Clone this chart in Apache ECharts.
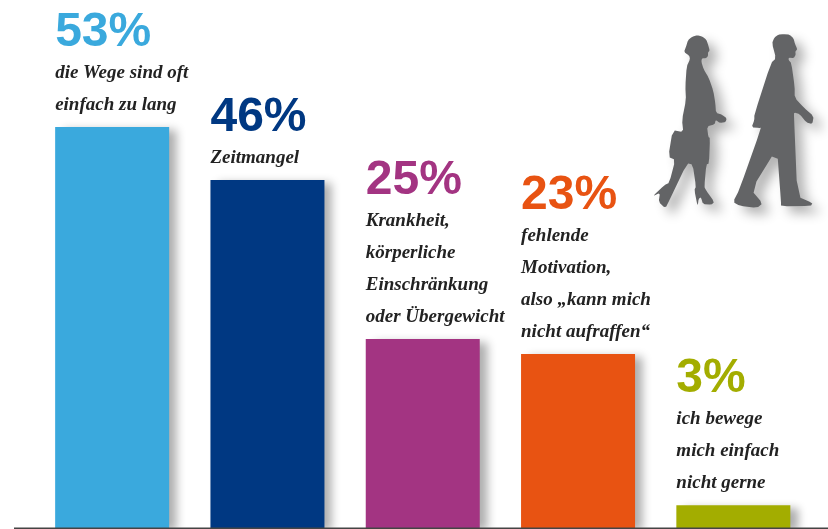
<!DOCTYPE html>
<html><head><meta charset="utf-8">
<style>html,body{margin:0;padding:0;background:#fff}#c{width:828px;height:529px}</style>
<script src="https://cdn.jsdelivr.net/npm/echarts@6/dist/echarts.min.js"></script>
</head><body><div id="c"></div>
<script>
const categories = ['Wege','Zeitmangel','Krankheit','Motivation','Nicht gerne'];
const values = [53,46,25,23,3];
const colors = ['#3AA9DD','#003882','#A33482','#E85312','#A3AD00'];
const percentLabels = ['53%','46%','25%','23%','3%'];
const captions = [
 ['die Wege sind oft','einfach zu lang'],
 ['Zeitmangel'],
 ['Krankheit,','körperliche','Einschränkung','oder Übergewicht'],
 ['fehlende','Motivation,','also „kann mich','nicht aufraffen“'],
 ['ich bewege','mich einfach','nicht gerne']
];
const womanPts = [[172,46],[186,49],[199,59],[205,76],[209,92],[204,97],[204,108],[198,115],[186,115],[184,125],[191,148],[206,173],[220,213],[226,250],[228,279],[246,284],[260,295],[257,306],[240,309],[227,300],[224,313],[201,319],[205,351],[210,354],[207,431],[199,433],[193,500],[197,509],[223,546],[214,554],[189,552],[183,532],[176,536],[173,560],[163,510],[168,500],[158,433],[141,430],[88,541],[76,565],[56,546],[60,518],[37,530],[74,495],[88,488],[106,419],[85,411],[98,330],[130,337],[126,300],[138,240],[136,200],[140,139],[150,118],[148,107],[132,96],[138,80],[144,61],[156,50]];
const manPts = [[430,42],[449,44],[461,56],[465,72],[472,88],[466,94],[467,105],[461,114],[446,113],[446,121],[454,129],[464,200],[464,233],[492,263],[521,289],[517,312],[499,307],[479,282],[462,277],[462,290],[472,529],[518,549],[512,558],[423,559],[423,545],[411,384],[334,510],[368,550],[351,564],[299,557],[279,546],[298,509],[364,323],[357,324],[335,322],[343,300],[343,284],[393,129],[408,115],[396,70],[403,53],[415,44]];
const soften = (pts) => pts.flatMap((p,i) => {
  const q = pts[(i+1)%pts.length];
  return [[p[0]*0.8+q[0]*0.2,p[1]*0.8+q[1]*0.2],[p[0]*0.2+q[0]*0.8,p[1]*0.2+q[1]*0.8]];
});
const chart = echarts.init(document.getElementById('c'), null, {renderer:'canvas'});
const silhouette = (pts) => ({
  type:'polygon', x:640, y:20, scaleX:1/3, scaleY:1/3, silent:true,
  shape:{points:soften(pts)},
  style:{fill:'#636466',shadowBlur:12,shadowColor:'rgba(0,0,0,0.3)',shadowOffsetX:8,shadowOffsetY:7}
});
chart.setOption({
  animation:false,
  backgroundColor:'#fff',
  grid:{left:34.5,right:17,top:0,bottom:1,containLabel:false},
  xAxis:{type:'category',data:categories,axisLine:{show:false},axisTick:{show:false},axisLabel:{show:false}},
  yAxis:{type:'value',min:0,max:69.8,show:false,splitLine:{show:false}},
  graphic:[
    {type:'line',silent:true,z:10,shape:{x1:14,y1:528.2,x2:828,y2:528.2},style:{stroke:'#444',lineWidth:1.5}},
    silhouette(womanPts),silhouette(manPts)
  ],
  series:[{
    type:'bar',barWidth:114,
    data:values.map((v,i)=>({
      value:v,
      itemStyle:{color:colors[i],shadowBlur:9,shadowColor:'rgba(0,0,0,0.32)',shadowOffsetX:8,shadowOffsetY:3},
      label:{
        show:true,position:[0,-6],align:'left',verticalAlign:'bottom',
        formatter:'{p|'+percentLabels[i]+'}\n'+captions[i].map(s=>'{c|'+s+'}').join('\n'),
        rich:{
          p:{fontFamily:'Liberation Sans',fontWeight:'bold',fontSize:48,lineHeight:49,color:colors[i]},
          c:{fontFamily:'Liberation Serif',fontStyle:'italic',fontWeight:'bold',fontSize:19,lineHeight:32,color:'#222'}
        }
      }
    }))
  }]
});
</script></body></html>
